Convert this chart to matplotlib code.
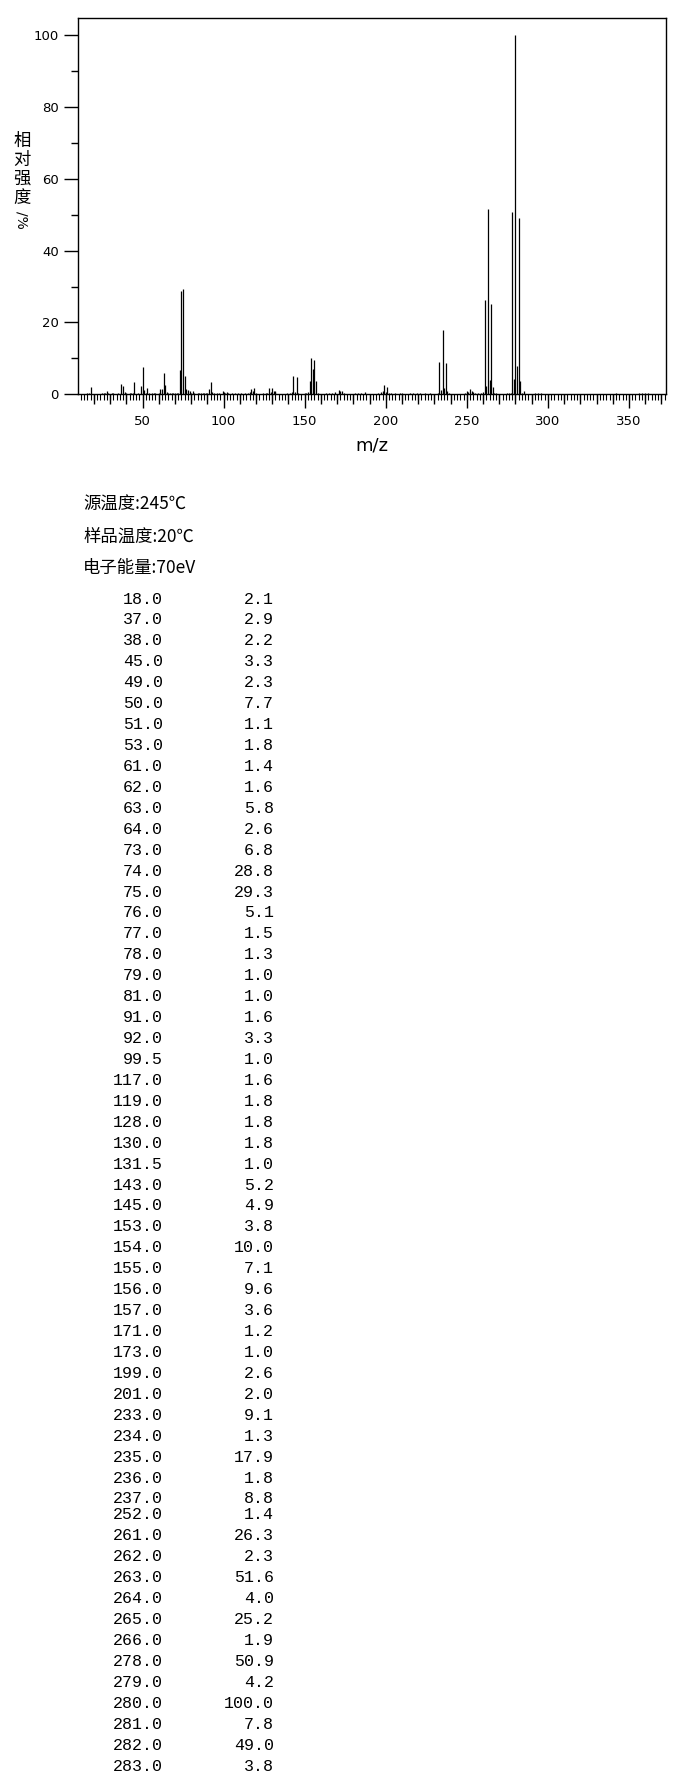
import matplotlib
matplotlib.use("Agg")
import matplotlib.pyplot as plt
from matplotlib.ticker import MultipleLocator, FixedLocator, NullFormatter

# ---------------- data ----------------
# listed peaks (m/z, relative intensity %)
mz = [18.0, 37.0, 38.0, 45.0, 49.0, 50.0, 51.0, 53.0, 61.0, 62.0, 63.0, 64.0,
      73.0, 74.0, 75.0, 76.0, 77.0, 78.0, 79.0, 81.0, 91.0, 92.0, 99.5, 117.0,
      119.0, 128.0, 130.0, 131.5, 143.0, 145.0, 153.0, 154.0, 155.0, 156.0,
      157.0, 171.0, 173.0, 199.0, 201.0, 233.0, 234.0, 235.0, 236.0, 237.0,
      252.0, 261.0, 262.0, 263.0, 264.0, 265.0, 266.0, 278.0, 279.0, 280.0,
      281.0, 282.0, 283.0]
intensity = [2.1, 2.9, 2.2, 3.3, 2.3, 7.7, 1.1, 1.8, 1.4, 1.6, 5.8, 2.6,
             6.8, 28.8, 29.3, 5.1, 1.5, 1.3, 1.0, 1.0, 1.6, 3.3, 1.0, 1.6,
             1.8, 1.8, 1.8, 1.0, 5.2, 4.9, 3.8, 10.0, 7.1, 9.6,
             3.6, 1.2, 1.0, 2.6, 2.0, 9.1, 1.3, 17.9, 1.8, 8.8,
             1.4, 26.3, 2.3, 51.6, 4.0, 25.2, 1.9, 50.9, 4.2, 100.0,
             7.8, 49.0, 3.8]

# small unlisted peaks (estimated)
minor_mz = [16, 17, 25, 26, 27, 28, 29, 31, 32, 35, 39, 40, 42, 43, 44, 47,
            52, 54, 56, 57, 58, 60, 65, 66, 67, 68, 69, 70, 71, 72, 80, 82,
            84, 85, 86, 87, 88, 89, 90, 93, 94, 96, 97, 100, 101, 102, 103,
            105, 107, 109, 111, 113, 115, 116, 118, 120, 124, 126, 127, 129,
            131, 132, 139, 141, 142, 144, 146, 150, 151, 152, 158, 163, 165,
            167, 169, 172, 174, 181, 183, 185, 187, 195, 197, 198, 200, 202,
            203, 206, 209, 210, 215, 217, 219, 221, 224, 227, 232, 238, 239,
            249, 250, 251, 253, 254, 255, 257, 259, 260, 267, 268, 275, 276,
            277, 284, 285, 292, 294, 296, 342, 356, 358, 360, 362]
minor_int = [0.5, 0.3, 0.3, 0.4, 0.5, 0.9, 0.5, 0.4, 0.3, 0.3, 0.7, 0.4, 0.4,
             0.4, 0.3, 0.4, 0.4, 0.5, 0.4, 0.3, 0.3, 0.4, 0.6, 0.4, 0.5, 0.3,
             0.3, 0.4, 0.5, 0.3, 0.5, 0.5, 0.4, 0.4, 0.4, 0.4, 0.3, 0.4, 0.5,
             0.6, 0.4, 0.3, 0.4, 0.7, 0.5, 0.6, 0.5, 0.5, 0.4, 0.4, 0.4, 0.3,
             0.5, 0.6, 0.8, 0.5, 0.4, 0.4, 0.5, 0.7, 0.8, 0.6, 0.5, 0.5, 0.6,
             0.6, 0.3, 0.3, 0.4, 0.6, 0.5, 0.3, 0.4, 0.5, 0.6, 0.8, 0.5, 0.4,
             0.5, 0.5, 0.6, 0.4, 0.6, 0.8, 0.6, 0.4, 0.5, 0.3, 0.4, 0.4, 0.5,
             0.5, 0.4, 0.5, 0.4, 0.4, 0.4, 0.8, 0.5, 0.4, 0.8, 0.6, 0.8, 0.7,
             0.5, 0.4, 0.3, 0.6, 0.5, 0.4, 0.3, 0.5, 0.3, 0.5, 0.8, 0.5, 0.4,
             0.3, 0.3, 0.3, 0.3, 0.4, 0.4]

x_ticks = [50, 100, 150, 200, 250, 300, 350]
y_ticks = [0, 20, 40, 60, 80, 100]
header_lines = ["源温度:245℃", "样品温度:20℃", "电子能量:70eV"]
ylabel_chars = ["相", "对", "强", "度"]
ylabel_unit = "/%"
xlabel = "m/z"

# ---------------- figure ----------------
W, H = 687, 1773
DPI = 100
fig = plt.figure(figsize=(W / DPI, H / DPI), dpi=DPI)
fig.patch.set_facecolor("white")


def fx(px):
    return px / W


def fy(py):
    return 1 - py / H


ax_left, ax_right, ax_top, ax_bottom = 78.3, 666.3, 18.3, 394.3
ax = fig.add_axes([fx(ax_left), fy(ax_bottom), fx(ax_right - ax_left), (ax_bottom - ax_top) / H])
ax.set_xlim(10.4, 373.0)
ax.set_ylim(0, 104.7)

ax.vlines(minor_mz, 0, minor_int, colors="black", linewidth=0.9)
ax.vlines(mz, 0, intensity, colors="black", linewidth=0.9)

for s in ax.spines.values():
    s.set_linewidth(1.0)
    s.set_color("black")

# fine ticks every 2 units (twin axis drawn underneath)
ax2 = ax.twiny()
ax2.set_xlim(ax.get_xlim())
ax2.xaxis.set_ticks_position("bottom")
ax2.xaxis.set_major_locator(MultipleLocator(2))
ax2.xaxis.set_major_formatter(NullFormatter())
ax2.tick_params(axis="x", which="major", length=4, width=0.8)
for s in ax2.spines.values():
    s.set_visible(False)

# y ticks
ax.yaxis.set_major_locator(FixedLocator(y_ticks))
ax.yaxis.set_minor_locator(MultipleLocator(10))
ax.tick_params(axis="y", which="major", length=10, width=1.0, pad=4,
               labelsize=9.5, colors="black", left=True, labelleft=True)
ax.tick_params(axis="y", which="minor", length=5, width=1.0)

# x ticks: 50s major (labelled), 10s minor medium
ax.xaxis.set_major_locator(FixedLocator(x_ticks))
ax.xaxis.set_minor_locator(MultipleLocator(10))
ax.tick_params(axis="x", which="major", length=10, width=1.0, pad=5,
               labelsize=9.5, colors="black")
ax.tick_params(axis="x", which="minor", length=7, width=1.0)

ax.set_xlabel(xlabel, fontsize=13, labelpad=6, family="DejaVu Sans")

# vertical y label
cjk = ["Noto Sans CJK SC", "DejaVu Sans"]
ly = 141
for ch in ylabel_chars:
    fig.text(fx(22), fy(ly), ch, family=cjk, fontsize=12.5, ha="center", va="center")
    ly += 19
fig.text(fx(22), fy(ly + 3), ylabel_unit, family="DejaVu Sans", fontsize=10,
         ha="center", va="center", rotation=270)

# header lines
for i, t in enumerate(header_lines):
    fig.text(fx(83), fy(505 + i * 31.5), t, family=cjk, fontsize=12.5,
             ha="left", va="center")

# peak table
for i, (m, v) in enumerate(zip(mz, intensity)):
    y = 599.0 + i * 20.93 - (5.0 if i >= 44 else 0.0)
    fig.text(fx(163), fy(y), f"{m:.1f}", family="Liberation Mono", fontsize=12,
             ha="right", va="center")
    fig.text(fx(274), fy(y), f"{v:.1f}", family="Liberation Mono", fontsize=12,
             ha="right", va="center")

fig.savefig("out.png", dpi=DPI)
